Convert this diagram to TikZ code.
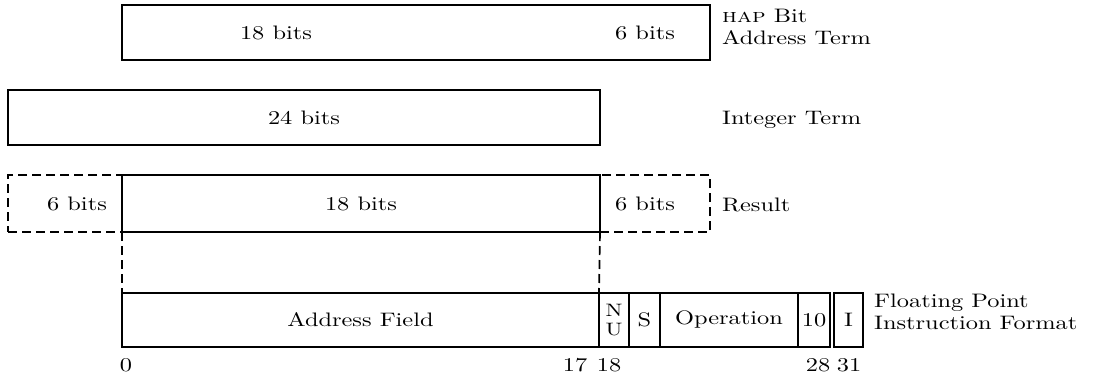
\documentclass[tikz,border=0pt]{standalone}
\usepackage{fontspec}
\setmainfont{lmroman10-regular.otf}[FakeStretch=1.25,
  SmallCapsFont=lmromancaps10-regular.otf,
  SmallCapsFeatures={FakeStretch=1.25}]
\usetikzlibrary{positioning}

\begin{document}
\begin{tikzpicture}[x=1pt, y=-1pt]
  % Styling
  \tikzset{
    field/.style={
      rectangle,
      draw=black,
      line width=1.7pt,
      inner sep=0pt,
      outer sep=0pt,
      align=center,
      minimum height=55pt,
      font=\fontsize{19.5}{22}\selectfont
    },
    dashfield/.style={
      field,
      dash pattern=on 9pt off 5pt
    },
    guide/.style={
      line width=1.7pt,
      dash pattern=on 9pt off 5pt
    },
    label/.style={
      font=\fontsize{19.5}{22}\selectfont,
      inner sep=0pt,
      align=left,
      anchor=west
    },
    bitnum/.style={
      font=\fontsize{19.5}{22}\selectfont,
      inner sep=0pt
    }
  }

  \useasboundingbox (0,0) rectangle (1096,376);

  % ===== HAP bit address term =====
  \node[field, minimum width=588pt] (hap) at (416,32.5) {};
  \node[label, anchor=center] (hap18) at (276,33) {18 bits};
  \node[label, anchor=center] (hap6) at (645,33) {6 bits};
  \node[label] (haplbl) at (722,27) {\textsc{hap} Bit\\Address Term};

  % ===== Integer term =====
  \node[field, minimum width=592pt] (int) at (304,117.5) {24 bits};
  \node[label] (intlbl) at (722,120) {Integer Term};

  % ===== Result =====
  \node[dashfield, minimum width=114pt, minimum height=57pt] (resL) at (65,203.5) {\hspace*{24pt}6 bits};
  \node[dashfield, minimum width=110pt, minimum height=57pt] (resR) at (655,203.5) {6 bits\hspace*{20pt}};
  \node[field, minimum width=478pt, minimum height=57pt] (res18) at (361,203.5) {18 bits};
  \node[label] (reslbl) at (722,205) {Result};

  % ===== Floating point instruction format =====
  \node[field, minimum width=477pt, minimum height=54pt] (addr) at (360.5,320) {Address Field};
  \node[field, minimum width=30pt, minimum height=54pt, right=0pt of addr,
    font=\fontsize{18}{19}\selectfont] (nu) {N\\U};
  \node[field, minimum width=31pt, minimum height=54pt, right=0pt of nu] (sbit) {S};
  \node[field, minimum width=138pt, minimum height=54pt, right=0pt of sbit] (op) {Operation};
  \node[field, minimum width=32pt, minimum height=54pt, right=0pt of op] (ten) {10};
  \node[field, minimum width=29pt, minimum height=54pt, right=4pt of ten] (ibit) {I};
  \node[label] (fplbl) at (874,312) {Floating Point\\Instruction Format};

  % Guides from result down to address field
  \draw[guide] (res18.south west) -- (addr.north west);
  \draw[guide] (res18.south east) -- (addr.north east);

  % Bit numbers
  \node[bitnum] (b0) at (126,365) {0};
  \node[bitnum] (b17) at (575,365) {17};
  \node[bitnum] (b18) at (609,365) {18};
  \node[bitnum] (b28) at (818,365) {28};
  \node[bitnum] (b31) at (849,365) {31};
\end{tikzpicture}
\end{document}
